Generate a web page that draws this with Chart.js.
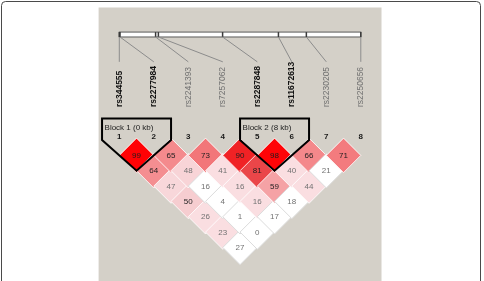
<!DOCTYPE html>
<html><head><meta charset="utf-8">
<script src="https://cdn.jsdelivr.net/npm/chart.js@4/dist/chart.umd.min.js"></script>
<style>html,body{margin:0;padding:0;background:#fff;overflow:hidden}canvas{display:block}</style>
</head><body>
<canvas id="c" width="484" height="281"></canvas>
<script>
// ---- data ----
const markers = ['rs344555','rs2277984','rs2241393','rs7257062','rs2287848','rs11672613','rs2230205','rs2250656'];
const markerPositionsKb = [0, 0.1, 5.2, 5.6, 14.8, 22.8, 26.8, 34.6];
const blockNames = ['Block 1 (0 kb)', 'Block 2 (8 kb)'];
const blockFirst = [1, 5];
const blockLast = [2, 6];
// D' x100 of marker i with markers i+1 .. 8
const dPrime1 = [99, 64, 47, 50, 26, 23, 27];
const dPrime2 = [65, 48, 16, 4, 1, 0];
const dPrime3 = [73, 41, 16, 16, 17];
const dPrime4 = [90, 81, 59, 18];
const dPrime5 = [98, 40, 44];
const dPrime6 = [66, 21];
const dPrime7 = [71];
// LOD >= 2 ?
const lodHigh1 = [true, true, true, true, true, true, false];
const lodHigh2 = [true, true, false, false, false, false];
const lodHigh3 = [true, true, true, true, false];
const lodHigh4 = [true, true, true, false];
const lodHigh5 = [true, true, true];
const lodHigh6 = [true, false];
const lodHigh7 = [true];

const dRows = [dPrime1, dPrime2, dPrime3, dPrime4, dPrime5, dPrime6, dPrime7];
const lodRows = [lodHigh1, lodHigh2, lodHigh3, lodHigh4, lodHigh5, lodHigh6, lodHigh7];

const cells = [];
dRows.forEach((row, r) => {
  const i = r + 1;
  row.forEach((v, k) => {
    const j = i + 1 + k;
    cells.push({x: (i + j) / 2, y: j - i, v: v, sig: lodRows[r][k], i: i, j: j});
  });
});

// ---- colour mapping (Haploview-like D'/LOD scheme) ----
const stops = [[0,250,222],[45,250,222],[50,246,205],[59,245,162],[65,244,138],[73,242,118],[81,234,70],[90,240,34],[97,255,6],[100,255,0]];
function cellColor(c) {
  if (!c.sig) return '#ffffff';
  const v = c.v;
  for (let k = 1; k < stops.length; k++) {
    if (v <= stops[k][0]) {
      const a = stops[k-1], b = stops[k];
      const t = (v - a[0]) / (b[0] - a[0]);
      const r = Math.round(a[1] + (b[1]-a[1])*t);
      const g = Math.round(a[2] + (b[2]-a[2])*t);
      return `rgb(${r},${g},${Math.min(255, g + 3)})`;
    }
  }
  return 'rgb(255,0,0)';
}

const FONT = '"Liberation Sans", Arial, sans-serif';

const ldPlugin = {
  id: 'ldDecor',
  beforeDraw(chart) {
    const ctx = chart.ctx, xs = chart.scales.x, ys = chart.scales.y;
    const X = v => xs.getPixelForValue(v), Y = v => ys.getPixelForValue(v);
    ctx.save();
    ctx.fillStyle = '#ffffff';
    ctx.fillRect(0, 0, chart.width, chart.height);
    // outer frame
    ctx.strokeStyle = '#4a4a4a'; ctx.lineWidth = 1;
    ctx.beginPath();
    if (ctx.roundRect) ctx.roundRect(1.5, 1.5, 479, 300, 4); else ctx.rect(1.5, 1.5, 479, 300);
    ctx.stroke();
    // grey panel
    ctx.fillStyle = '#d4d0c8';
    ctx.fillRect(X(0.4), 7.5, X(8.6) - X(0.4), chart.height - 7.5);
    // physical map bar
    const x1 = X(1), x8 = X(8);
    const total = markerPositionsKb[markerPositionsKb.length - 1];
    const barTop = Y(-7.04), barBot = Y(-6.72);
    ctx.fillStyle = '#ffffff';
    ctx.fillRect(x1, barTop, x8 - x1, barBot - barTop);
    ctx.strokeStyle = '#5a5a5a'; ctx.lineWidth = 1;
    ctx.strokeRect(x1, barTop, x8 - x1, barBot - barTop);
    const lineEnd = Y(-5.1);
    markerPositionsKb.forEach((p, k) => {
      const px = x1 + p / total * (x8 - x1);
      ctx.strokeStyle = '#3a3a3a'; ctx.lineWidth = 1.5;
      ctx.beginPath(); ctx.moveTo(px, barTop); ctx.lineTo(px, barBot); ctx.stroke();
      ctx.strokeStyle = '#8c8c8c'; ctx.lineWidth = 1;
      ctx.beginPath(); ctx.moveTo(px, barBot); ctx.lineTo(X(k + 1), lineEnd); ctx.stroke();
    });
    // marker names
    const inBlock = i => blockFirst.some((f, b) => i >= f && i <= blockLast[b]);
    markers.forEach((m, k) => {
      const bold = inBlock(k + 1);
      ctx.save();
      ctx.translate(X(k + 1), Y(-2.15));
      ctx.rotate(-Math.PI / 2);
      ctx.font = (bold ? 'bold ' : '') + '8.5px ' + FONT;
      ctx.fillStyle = bold ? '#111111' : '#707070';
      ctx.textAlign = 'left'; ctx.textBaseline = 'middle';
      ctx.fillText(m, 0, 0);
      ctx.restore();
    });
    // marker numbers
    ctx.font = 'bold 8px ' + FONT;
    ctx.fillStyle = '#1a1a1a';
    ctx.textAlign = 'center'; ctx.textBaseline = 'alphabetic';
    markers.forEach((m, k) => ctx.fillText(String(k + 1), X(k + 1), Y(-0.1)));
    ctx.restore();
  },
  afterDatasetsDraw(chart) {
    const ctx = chart.ctx, xs = chart.scales.x, ys = chart.scales.y;
    const X = v => xs.getPixelForValue(v), Y = v => ys.getPixelForValue(v);
    ctx.save();
    // values
    ctx.font = '8px ' + FONT;
    ctx.textAlign = 'center'; ctx.textBaseline = 'middle';
    cells.forEach(c => {
      ctx.fillStyle = c.v >= 50 ? '#1e1e1e' : '#727272';
      ctx.fillText(String(c.v), X(c.x), Y(c.y) + 0.5);
    });
    // blocks
    blockNames.forEach((name, b) => {
      const s = blockFirst[b], e = blockLast[b];
      const top = Y(-1.4);
      ctx.strokeStyle = '#000000'; ctx.lineWidth = 2; ctx.lineJoin = 'miter';
      ctx.beginPath();
      ctx.moveTo(X(s - 0.5), Y(0));
      ctx.lineTo(X(s - 0.5), top);
      ctx.lineTo(X(e + 0.5), top);
      ctx.lineTo(X(e + 0.5), Y(0));
      ctx.lineTo(X((s + e) / 2), Y(e - s + 1));
      ctx.closePath();
      ctx.stroke();
      ctx.font = '8px ' + FONT;
      ctx.fillStyle = '#222222';
      ctx.textAlign = 'left'; ctx.textBaseline = 'alphabetic';
      ctx.fillText(name, X(s - 0.5) + 2.5, Y(-0.67));
    });
    ctx.restore();
  }
};

const U = 34.5;
new Chart(document.getElementById('c'), {
  type: 'scatter',
  data: {
    datasets: [{
      data: cells,
      pointStyle: 'rectRot',
      pointRadius: ctx => {
        const s = ctx.chart.scales.x;
        const r = s ? (s.getPixelForValue(1) - s.getPixelForValue(0)) / 2 : NaN;
        return isFinite(r) ? r : U / 2;
      },
      backgroundColor: ctx => ctx.raw ? cellColor(ctx.raw) : '#fff',
      borderColor: ctx => (ctx.raw && !ctx.raw.sig) ? '#dcdcdc' : 'rgba(255,255,255,0.85)',
      borderWidth: 1,
      clip: false
    }]
  },
  options: {
    responsive: false,
    animation: false,
    events: [],
    devicePixelRatio: 1,
    layout: { padding: { left: 102.05, right: 484 - (102.05 + 8 * U), top: 140.05, bottom: 281 - (140.05 + 8 * U / 2) } },
    plugins: { legend: { display: false }, tooltip: { enabled: false } },
    scales: {
      x: { type: 'linear', min: 0.5, max: 8.5, display: false },
      y: { type: 'linear', min: 0, max: 8, reverse: true, display: false }
    }
  },
  plugins: [ldPlugin]
});
</script>
</body></html>
